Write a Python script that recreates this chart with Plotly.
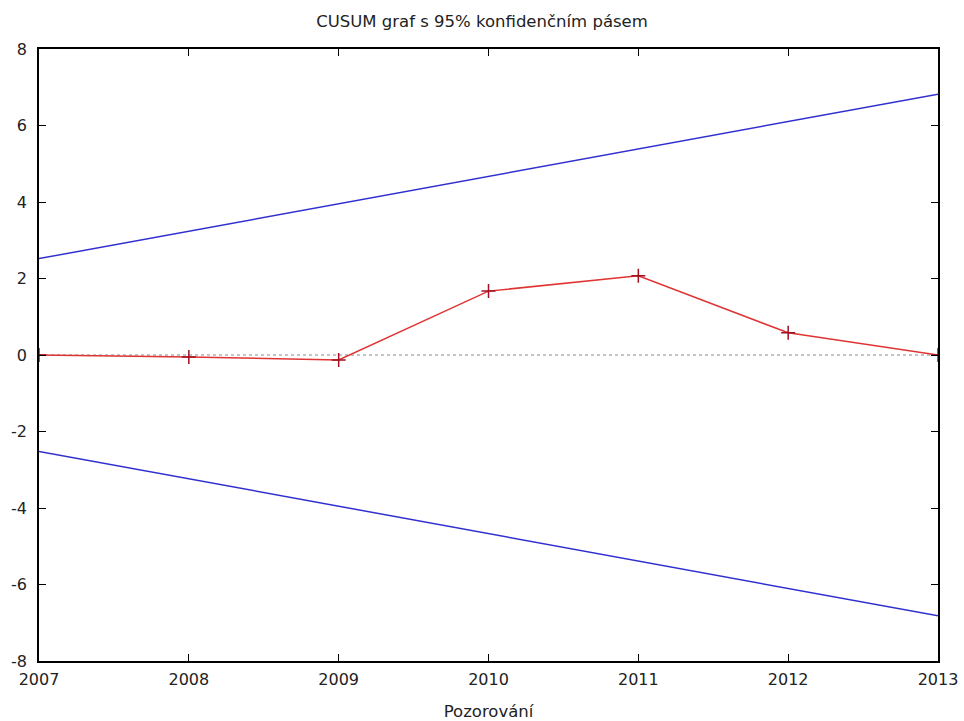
import plotly.graph_objects as go

years = [2007, 2008, 2009, 2010, 2011, 2012, 2013]
cusum = [0.0, -0.05, -0.13, 1.67, 2.07, 0.58, 0.0]
band_x = [2007, 2013]
upper = [2.52, 6.82]
lower = [-2.52, -6.82]
y_ticks = [-8, -6, -4, -2, 0, 2, 4, 6, 8]
y_tick_text = [str(v) for v in y_ticks]

font = dict(family="DejaVu Sans, Verdana, sans-serif", size=16, color="#222")
title_font = dict(family="DejaVu Sans, Verdana, sans-serif", size=16.5, color="#222")

fig = go.Figure()
fig.add_trace(go.Scatter(x=[2007, 2013], y=[0, 0], mode="lines",
                         line=dict(color="#888", width=1, dash="dot"),
                         hoverinfo="skip"))
fig.add_trace(go.Scatter(x=band_x, y=upper, mode="lines",
                         line=dict(color="#3030d0", width=1.5)))
fig.add_trace(go.Scatter(x=band_x, y=lower, mode="lines",
                         line=dict(color="#3030d0", width=1.5)))
fig.add_trace(go.Scatter(x=years, y=cusum, mode="lines+markers",
                         line=dict(color="#e03434", width=1.5),
                         marker=dict(symbol="cross-thin", size=10,
                                     line=dict(color="#a01020", width=1.5))))

axis_common = dict(showgrid=False, zeroline=False, showline=True, linecolor="#000",
                   linewidth=1.5, mirror="ticks", ticks="inside", ticklen=7,
                   tickcolor="#000", tickwidth=1, tickfont=font, automargin=False)

fig.update_layout(
    width=964, height=721,
    margin=dict(l=39, r=26, t=49, b=60),
    paper_bgcolor="white", plot_bgcolor="white",
    showlegend=False,
    title=dict(text="CUSUM graf s 95% konfidenčním pásem", x=0.5, xanchor="center",
               y=1 - 21 / 721, yanchor="middle", font=title_font),
    xaxis=dict(range=[2007, 2013], tickvals=years, ticklabelstandoff=3, **axis_common,
               title=dict(text="Pozorování", font=title_font, standoff=18)),
    yaxis=dict(range=[-8, 8], tickvals=y_ticks, ticktext=y_tick_text,
               ticklabelstandoff=7, **axis_common),
)

fig.write_html("out.html")
